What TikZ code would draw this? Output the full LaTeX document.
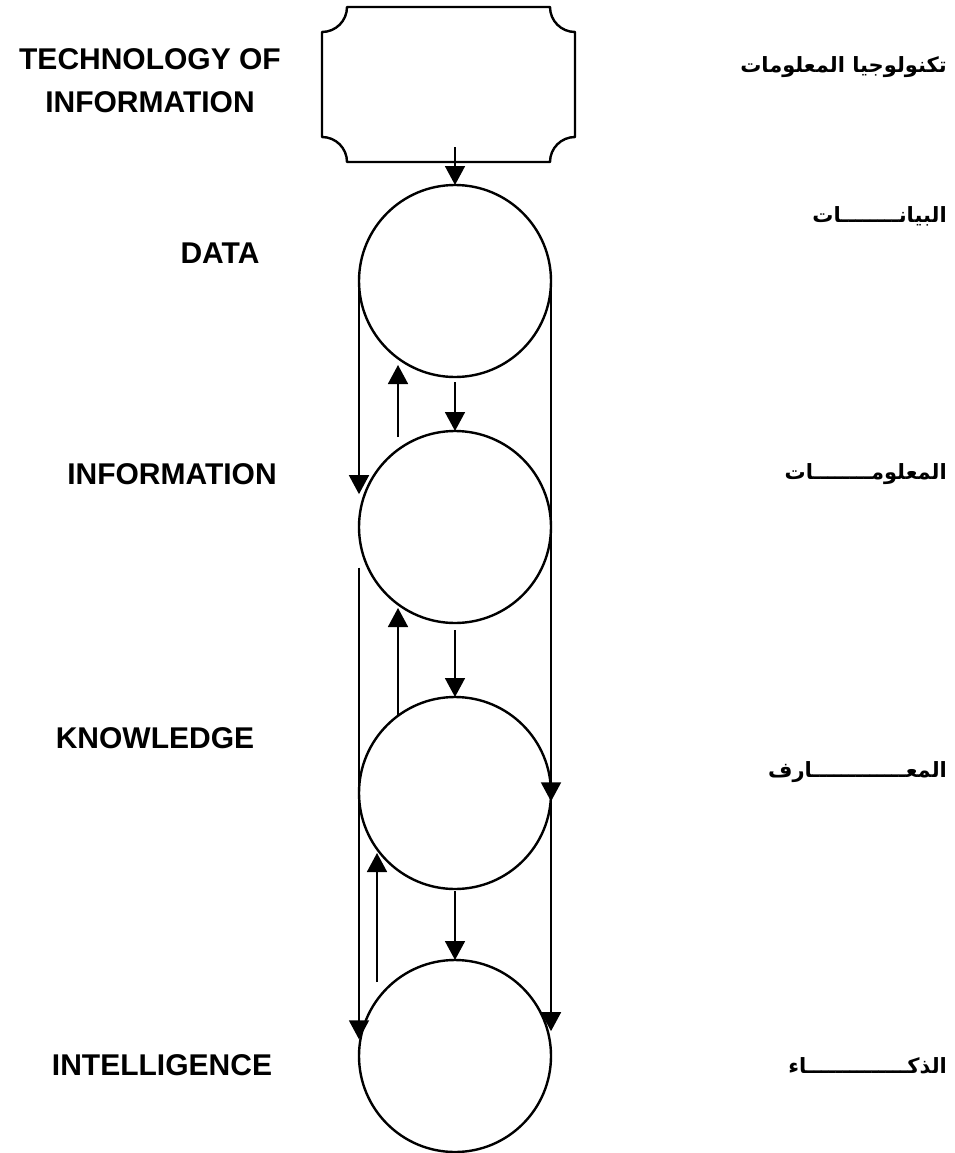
\documentclass[tikz,border=0pt]{standalone}
\usepackage{fontspec}
\setmainfont{Liberation Sans}
\newfontfamily\arabicfont[Script=Arabic]{DejaVu Sans}
\TeXXeTstate=1
\usetikzlibrary{arrows.meta,calc}
\begin{document}
\begin{tikzpicture}[x=1pt,y=-1pt,
  lbl/.style={font=\fontsize{30}{43}\selectfont\bfseries, align=center, inner sep=0pt},
  albl/.style={font=\arabicfont\fontsize{21}{25}\selectfont\bfseries, anchor=east, inner sep=0pt},
  stage/.style={circle, draw, line width=2.4pt, minimum size=192pt, inner sep=0pt, outer sep=0pt},
  conn/.style={line width=1.7pt, -{Triangle[length=19pt,width=20pt]}}]
\useasboundingbox (0,0) rectangle (955,1153);

% top plaque box
\node[inner sep=0pt, outer sep=0pt, minimum width=253pt, minimum height=155pt] (tech) at (448.5,84.5) {};
\draw[line width=2.4pt, line join=round]
  ($(tech.north west)+(25,0)$) -- ($(tech.north east)+(-25,0)$)
  arc[start angle=180, end angle=270, radius=25pt]
  -- ($(tech.south east)+(0,-25)$)
  arc[start angle=90, end angle=180, radius=25pt]
  -- ($(tech.south west)+(25,0)$)
  arc[start angle=0, end angle=90, radius=25pt]
  -- ($(tech.north west)+(0,25)$)
  arc[start angle=-90, end angle=0, radius=25pt] -- cycle;

% circles
\node[stage] (data)  at (455,281)  {};
\node[stage] (info)  at (455,527)  {};
\node[stage] (know)  at (455,793)  {};
\node[stage] (intel) at (455,1056) {};

% central down arrows
\draw[conn] ([yshift=15pt]tech.south -| data.north) -- (data.north);
\draw[conn] ([yshift=-5pt]data.south) -- (info.north);
\draw[conn] ([yshift=-7pt]info.south) -- (know.north);
\draw[conn] ([yshift=-2pt]know.south) -- (intel.north);

% upward arrows
\draw[conn] ($(info.north)+(-57,6)$) -- ($(data.south)+(-57,-12)$);
\draw[conn] ($(know.north)+(-57,18)$) -- ($(info.south)+(-57,-15)$);
\draw[conn] ($(intel.north)+(-78,22)$) -- ($(know.south)+(-78,-36)$);

% left bypass lines
\draw[conn] (data.west) -- (data.west |- info.160);
\draw[conn] (data.west |- info.205) -- (data.west |- intel.170);

% right bypass lines
\coordinate (rk) at (data.east |- know.355);
\draw[conn] (data.east) -- (rk);
\draw[conn] (rk) -- (data.east |- intel.15);

% English labels
\node[lbl] (ltech)  at (150,81)   {TECHNOLOGY OF\\INFORMATION};
\node[lbl] (ldata)  at (220,253)  {DATA};
\node[lbl] (linfo)  at (172,474)  {INFORMATION};
\node[lbl] (lknow)  at (155,738)  {KNOWLEDGE};
\node[lbl] (lintel) at (162,1065) {INTELLIGENCE};

% Arabic labels
\node[albl] (atech)  at (947,67)   {\beginR تكنولوجيا المعلومات\endR};
\node[albl] (adata)  at (947,216)  {\beginR البيانــــــــات\endR};
\node[albl] (ainfo)  at (947,474)  {\beginR المعلومــــــــات\endR};
\node[albl] (aknow)  at (947,772)  {\beginR المعـــــــــــــارف\endR};
\node[albl] (aintel) at (947,1066) {\beginR الذكــــــــــــــاء\endR};
\end{tikzpicture}
\end{document}
